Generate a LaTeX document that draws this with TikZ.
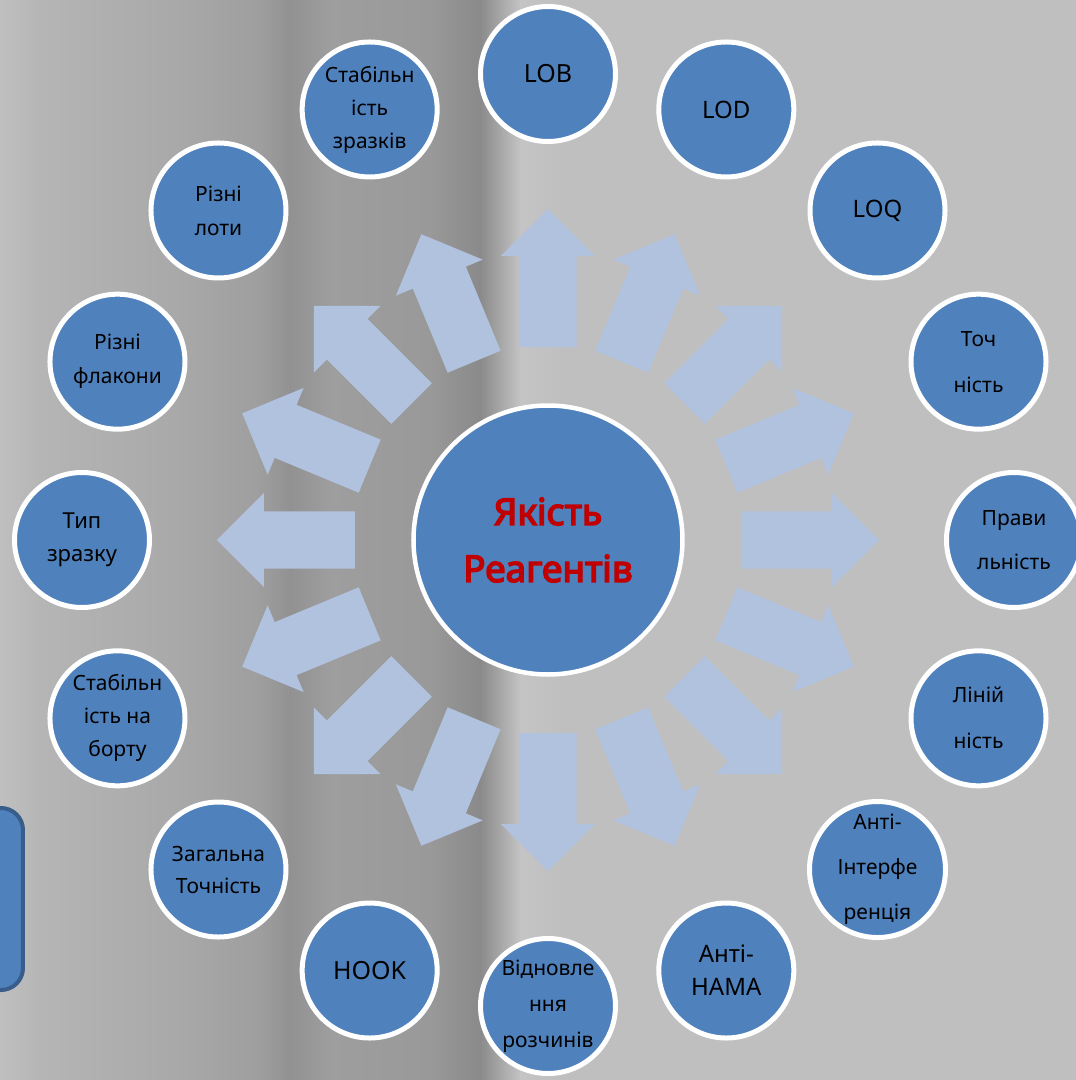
\documentclass[tikz,border=0pt]{standalone}
\usepackage{fontspec}
\setmainfont{Noto Sans}
\newfontfamily\titlefont{Noto Sans}[FakeBold=4]
\definecolor{circblue}{HTML}{4F81BD}
\definecolor{arrowblue}{HTML}{B0C2DE}
\definecolor{titlered}{HTML}{C00000}
\definecolor{boxedge}{HTML}{385D8A}
\begin{document}
\begin{tikzpicture}[x=1pt,y=1pt,
    outer/.style={circle,draw=white,line width=5pt,fill=circblue,minimum size=135pt,inner sep=0pt,align=center,text=black},
    core/.style={circle,draw=white,line width=4.5pt,fill=circblue,minimum size=269pt,inner sep=0pt,align=center,text=titlered,font=\titlefont\fontsize{37}{57}\selectfont},
    blockarrow/.style={fill=arrowblue}]
    \clip (-548,-540) rectangle (528,540);
    % background
    \foreach \xa/\xb/\ca/\cb in {-548/-508/black!25/black!29,-508/-368/black!29/black!34,-368/-288/black!34/black!38,-288/-258/black!38/black!43,-258/-218/black!43/black!38,-218/-118/black!38/black!40,-118/-68/black!40/black!46,-68/-28/black!46/black!23,-28/12/black!23/black!25,12/528/black!25/black!25}
        \shade[left color=\ca,right color=\cb] (\xa,-540) rectangle (\xb+1,540);
    % arrows
    \foreach \a in {0,22.5,...,337.5}
        \fill[blockarrow,rotate=\a] (193,-28.7) -- (284,-28.7) -- (284,-47) -- (331,0) -- (284,47) -- (284,28.7) -- (193,28.7) -- cycle;
    % centre
    \node[core] (quality) at (0,0) {Якість\\Реагентів};
    % outer circles
    \foreach \a/\txt/\fs/\ls [count=\i] in {90/LOB/25/30,67.5/LOD/24/30,45/LOQ/24/30,22.5/{Точ\\ність}/21/46,0/{Прави\\льність}/21/44,-22.5/{Ліній\\ність}/21/46,-45/{Анті-\\Інтерфе\\ренція}/21/45,-67.5/{Анті-\\HAMA}/24/33,-90/{Відновле\\ння\\розчинів}/21/36,-112.5/HOOK/25/30,-135/{Загальна\\Точність}/21/32,-157.5/{Стабільн\\ість на\\борту}/21/33,180/{Тип\\зразку}/22/33,157.5/{Різні\\флакони}/21/34,135/{Різні\\лоти}/21/34,112.5/{Стабільн\\ість\\зразків}/21/33}
        \node[outer,font=\fontsize{\fs}{\ls}\selectfont] (c\i) at (\a:466) {\txt};
    % box at the left edge
    \draw[fill=circblue,draw=boxedge,line width=4pt,rounded corners=22pt] (-620,-268) rectangle (-525,-450);
\end{tikzpicture}
\end{document}
